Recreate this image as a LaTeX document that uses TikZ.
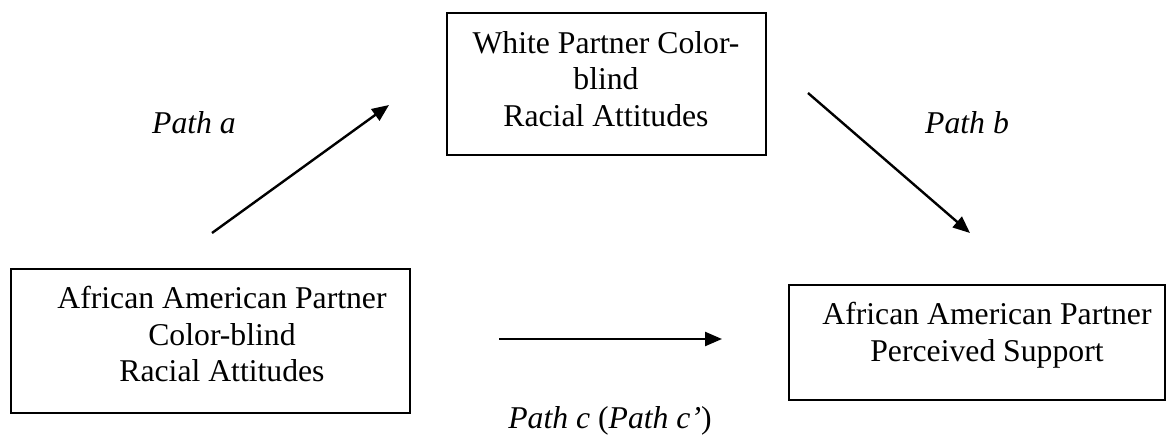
\documentclass[tikz,border=0pt]{standalone}
\usepackage{fontspec}
\setmainfont{Liberation Serif}
\usetikzlibrary{arrows.meta}
\begin{document}
\begin{tikzpicture}[x=1pt,y=-1pt,
  box/.style={draw, line width=1.4pt, inner sep=0pt},
  txt/.style={align=center, inner sep=0pt, font=\fontsize{31.7}{36.5}\selectfont},
  lbl/.style={inner sep=0pt, font=\fontsize{31.7}{36.5}\selectfont\itshape},
  arr/.style={line width=2.4pt, -{Triangle[length=17pt,width=14pt]}}]
\useasboundingbox (0,0) rectangle (1168,434);
% boxes
\draw[box] (447,13) rectangle (766,155);
\node[txt] (top) at (606,79) {White Partner Color-\\blind\\Racial Attitudes};
\draw[box] (11,269) rectangle (410,413);
\node[txt] (left) at (222,334) {African American Partner\\Color-blind\\Racial Attitudes};
\draw[box] (789,285) rectangle (1165,400);
\node[txt] (right) at (987,335) {African American Partner\\Perceived Support};
% arrow end points
\coordinate (a1) at (212,233);
\coordinate (a2) at (389,105);
\coordinate (b1) at (808,93);
\coordinate (b2) at (970,233);
\coordinate (c1) at (499,339);
\coordinate (c2) at (722,339);
\draw[arr] (a1) -- (a2);
\draw[arr] (b1) -- (b2);
\draw[arr] (c1) -- (c2);
% labels
\node[lbl, anchor=base] (pa) at (194,133) {Path a};
\node[lbl, anchor=base west] (pb) at (925,133) {Path b};
\node[inner sep=0pt, anchor=base, font=\fontsize{31.7}{36.5}\selectfont] (pc) at (610,428) {\textit{Path c} (\textit{Path c’})};
\end{tikzpicture}
\end{document}
